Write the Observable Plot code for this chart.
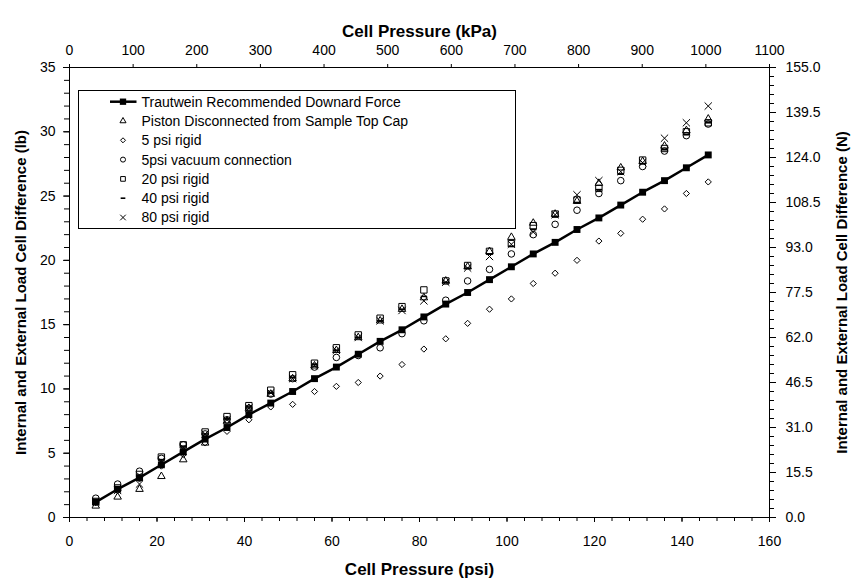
<!DOCTYPE html>
<html>
<head>
<meta charset="utf-8">
<script src="https://cdn.jsdelivr.net/npm/d3@7"></script>
<script src="https://cdn.jsdelivr.net/npm/@observablehq/plot@0.6"></script>
<style>
  html, body { margin: 0; padding: 0; background: #fff; }
  #wrap { position: relative; width: 854px; height: 584px; font-family: "Liberation Sans", Arial, sans-serif; }
  #legend { position: absolute; left: 78px; top: 90px; }
</style>
</head>
<body>
<div id="wrap"></div>
<script>
// ---- data (lb vs psi) ----
const psi = [6,11,16,21,26,31,36,41,46,51,56,61,66,71,76,81,86,91,96,101,106,111,116,121,126,131,136,141,146];
const trautwein = [1.2,2.2,3.1,4.1,5.1,6.1,7.0,8.0,8.9,9.8,10.8,11.7,12.7,13.7,14.6,15.6,16.6,17.5,18.5,19.5,20.5,21.4,22.4,23.3,24.3,25.3,26.2,27.2,28.2];
const pistonDisc = [0.9,1.6,2.2,3.2,4.5,5.8,7.5,8.5,9.6,10.8,11.8,13.0,14.0,15.3,16.2,17.1,18.4,19.5,20.7,21.8,22.9,23.6,24.6,26.0,27.2,27.7,28.9,30.1,31.0];
const rigid5 = [1.15,2.1,3.0,4.0,4.9,5.8,6.7,7.6,8.6,8.8,9.8,10.2,10.5,11.0,11.9,13.1,13.9,15.1,16.2,17.0,18.2,19.0,20.0,21.5,22.1,23.2,24.0,25.2,26.1];
const vacuum5 = [1.5,2.6,3.6,4.6,5.65,6.5,7.6,8.5,9.6,10.8,11.7,12.45,12.6,13.2,14.3,15.3,16.9,18.4,19.3,20.5,22.0,22.8,23.9,25.2,26.2,27.3,28.5,29.7,30.6];
const rigid20 = [1.25,2.3,3.35,4.7,5.65,6.65,7.85,8.7,9.9,11.1,12.0,13.2,14.2,15.5,16.4,17.7,18.4,19.6,20.7,21.3,22.7,23.6,24.7,25.6,27.0,27.8,28.7,30.0,30.7];
const rigid40 = [1.15,2.2,3.2,4.5,5.55,6.5,7.7,8.6,9.7,10.9,11.9,13.0,14.0,15.3,16.2,17.2,18.3,19.4,20.5,21.1,22.4,23.4,24.5,25.5,26.7,27.5,28.6,29.8,30.7];
const rigid80 = [1.25,2.1,2.6,4.4,5.45,6.5,7.6,8.5,9.7,10.8,11.8,13.0,14.0,15.3,16.1,16.85,18.3,19.4,20.3,21.25,22.2,23.55,25.1,26.2,26.9,27.6,29.5,30.7,32.0];

const seriesNames = ["Trautwein Recommended Downard Force","Piston Disconnected from Sample Top Cap","5 psi rigid","5psi vacuum connection","20 psi rigid","40 psi rigid","80 psi rigid"];

// axis ticks
const psiTicks = [0,20,40,60,80,100,120,140,160];
const kPaTicks = [0,100,200,300,400,500,600,700,800,900,1000,1100];
const lbTicks = [0,5,10,15,20,25,30,35];
const nTicks = [0,15.5,31,46.5,62,77.5,93,108.5,124,139.5,155];

const xTitle = "Cell Pressure (psi)";
const x2Title = "Cell Pressure (kPa)";
const yTitle = "Internal and External Load Cell Difference (lb)";
const y2Title = "Internal and External Load Cell Difference (N)";

// secondary axes span the full plot width / height
const kPaToPsi = k => k * 160 / 1100;
const nToLb = n => n * 35 / 155;

const dash = { draw(ctx, size) { const w = Math.sqrt(size) / 2; ctx.moveTo(-w, 0); ctx.lineTo(w, 0); } };

const pts = arr => arr.map((v, i) => ({x: psi[i], y: v}));

const openStyle = {x: "x", y: "y", stroke: "#000", fill: "none", strokeWidth: 1};

const plot = Plot.plot({
  width: 854,
  height: 584,
  marginLeft: 69,
  marginRight: 85,
  marginTop: 67,
  marginBottom: 67,
  style: {fontFamily: "'Liberation Sans', Arial, sans-serif", fontSize: "14px", color: "#000", background: "#fff", overflow: "visible"},
  x: {domain: [0, 160]},
  y: {domain: [0, 35]},
  marks: [
    Plot.frame({stroke: "#000", strokeWidth: 1}),
    // bottom axis
    Plot.axisX({anchor: "bottom", ticks: d3.range(0, 161, 4), tickSize: 4, tickFormat: () => "", label: null}),
    Plot.axisX({anchor: "bottom", ticks: psiTicks, tickSize: 5, tickPadding: 14, label: null, fontSize: 14}),
    // top axis (kPa)
    Plot.axisX({anchor: "top", ticks: kPaTicks.map(kPaToPsi), tickSize: 4, tickPadding: 9, label: null, fontSize: 14,
      tickFormat: d => String(Math.round(d * 1100 / 160))}),
    // left axis
    Plot.axisY({anchor: "left", ticks: d3.range(0, 36, 1), tickSize: 5, tickFormat: () => "", label: null}),
    Plot.axisY({anchor: "left", ticks: lbTicks, tickSize: 6, tickPadding: 8, label: null, fontSize: 14}),
    // right axis (N)
    Plot.axisY({anchor: "right", ticks: d3.range(0, 156, 3.1).map(nToLb), tickSize: 4, tickFormat: () => "", label: null}),
    Plot.axisY({anchor: "right", ticks: nTicks.map(nToLb), tickSize: 6, tickPadding: 10, label: null, fontSize: 14,
      tickFormat: d => (d * 155 / 35).toFixed(1)}),
    // titles
    Plot.text([x2Title], {frameAnchor: "top", dy: -43, fontWeight: "bold", fontSize: 17, textAnchor: "middle"}),
    Plot.text([xTitle], {frameAnchor: "bottom", dy: 57, fontWeight: "bold", fontSize: 17, textAnchor: "middle"}),
    Plot.text([yTitle], {frameAnchor: "left", dx: -48, rotate: -90, fontWeight: "bold", fontSize: 15, textAnchor: "middle"}),
    Plot.text([y2Title], {frameAnchor: "right", dx: 73, rotate: -90, fontWeight: "bold", fontSize: 15, textAnchor: "middle"}),
    // data
    Plot.line(pts(trautwein), {x: "x", y: "y", stroke: "#000", strokeWidth: 2.5}),
    Plot.dot(pts(trautwein), {x: "x", y: "y", symbol: "square", r: 3.9, fill: "#000", stroke: "none"}),
    Plot.dot(pts(pistonDisc), {...openStyle, symbol: "triangle", r: 2.8}),
    Plot.dot(pts(rigid5), {...openStyle, symbol: "diamond2", r: 2.8}),
    Plot.dot(pts(vacuum5), {...openStyle, symbol: "circle", r: 3.3}),
    Plot.dot(pts(rigid20), {...openStyle, symbol: "square", r: 3.6}),
    Plot.dot(pts(rigid40), {...openStyle, symbol: dash, r: 3.6, strokeWidth: 1.6}),
    Plot.dot(pts(rigid80), {...openStyle, symbol: "times", r: 3.4})
  ]
});

const wrap = document.getElementById("wrap");
wrap.appendChild(plot);

// ---- legend (inside plot area, top-left) ----
const lw = 438, lh = 139;
const lg = d3.select(wrap).append("svg").attr("id", "legend").attr("width", lw).attr("height", lh)
  .style("font-family", "'Liberation Sans', Arial, sans-serif");
lg.append("rect").attr("x", 0.5).attr("y", 0.5).attr("width", lw - 1).attr("height", lh - 1)
  .attr("fill", "#fff").attr("stroke", "#000").attr("stroke-width", 1);
const symTypes = [d3.symbolSquare, d3.symbolTriangle, d3.symbolDiamond2, d3.symbolCircle, d3.symbolSquare, dash, d3.symbolTimes];
const symSizes = [40, 16, 16, 20, 22, 22, 22];
seriesNames.forEach((name, i) => {
  const cy = 11.7 + i * 19.3;
  const g = lg.append("g");
  if (i === 0) {
    g.append("line").attr("x1", 32).attr("x2", 58.5).attr("y1", cy).attr("y2", cy).attr("stroke", "#000").attr("stroke-width", 2.5);
    g.append("path").attr("d", d3.symbol(symTypes[i], symSizes[i])()).attr("transform", `translate(45,${cy})`).attr("fill", "#000");
  } else {
    g.append("path").attr("d", d3.symbol(symTypes[i], symSizes[i])()).attr("transform", `translate(45,${cy})`)
      .attr("fill", "none").attr("stroke", "#000").attr("stroke-width", i === 5 ? 1.6 : 1);
  }
  g.append("text").attr("x", 63.5).attr("y", cy).attr("dy", "0.35em").attr("font-size", 14).attr("fill", "#000").text(name);
});
</script>
</body>
</html>
